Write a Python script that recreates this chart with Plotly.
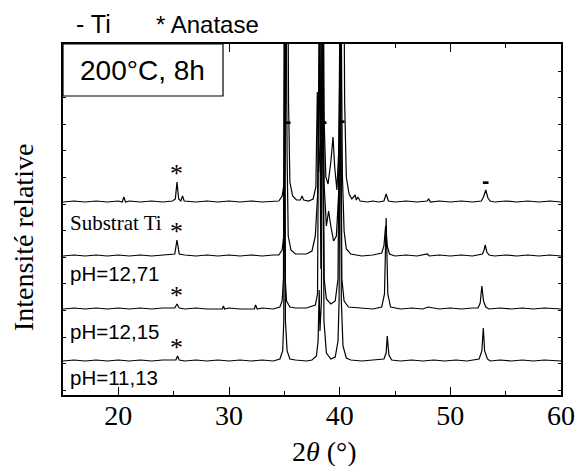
import plotly.graph_objects as go

# ---------------- data (2theta in degrees, relative intensity, arbitrary units) ----------------
# stacking offsets of the four patterns (top -> bottom)
offsets = [193, 139, 86, 34]
labels = ["Substrat Ti", "pH=12,71", "pH=12,15", "pH=11,13"]

t1_x = [15, 16, 17, 18, 19, 20, 20.35, 20.5, 20.65, 21, 22, 23, 24, 24.9, 25.15, 25.3, 25.45, 25.65, 25.8, 25.95,
        27, 28, 29, 30, 31, 32, 33, 34, 34.5, 34.8, 35.0, 35.12, 35.25, 35.38, 35.5, 35.75, 36.1, 36.45, 36.6, 36.75,
        37.2, 37.6, 37.85, 37.98, 38.1, 38.25, 38.45, 38.6, 38.75, 38.95, 39.2, 39.4, 39.55, 39.75, 39.95, 40.05,
        40.12, 40.3, 40.45, 40.6, 40.85, 41.1, 41.4, 41.5, 41.65, 41.85, 42.5, 43, 43.5, 44.0, 44.2, 44.4, 45, 46, 47,
        47.9, 48.05, 48.2, 49, 50, 51, 52, 52.8, 53.0, 53.2, 53.4, 53.6, 54, 55, 56, 57, 58, 59, 60]
t1_y = [0, 1, 0, 1, 0, 1, 0, 5, 0, 1, 0, 1, 0, 1, 3, 20, 3, 1, 6, 1,
        0, 1, 0, 1, 0, 1, 0, 1, 1, 6, 20, 100, 400, 100, 20, 6, 2, 2, 6, 2,
        1, 3, 15, 110, 30, 60, 400, 80, 25, 18, 40, 65, 35, 12, 60, 120,
        90, 400, 100, 25, 8, 3, 7, 2, 5, 1, 0, 1, 0, 1, 8, 1, 0, 1, 0,
        1, 3, 0, 1, 0, 1, 0, 1, 5, 12, 4, 1, 0, 1, 0, 1, 0, 1, 0]

t2_x = [15, 16, 17, 18, 19, 20, 21, 22, 23, 24, 25.1, 25.3, 25.5, 26, 27, 28, 29, 30, 31, 32, 33, 34, 34.5, 34.8,
        34.95, 35.05, 35.15, 35.25, 35.35, 35.6, 36, 37, 37.5, 37.8, 38.0, 38.2, 38.3, 38.45, 38.6, 38.8, 39.0,
        39.2, 39.45, 39.7, 39.9, 40.1, 40.25, 40.4, 40.6, 41, 42, 43, 43.8, 44.0, 44.15, 44.3, 44.5, 45, 46, 47,
        47.9, 48.1, 49, 50, 51, 52, 52.9, 53.05, 53.15, 53.3, 53.5, 54, 55, 56, 57, 58, 59, 60]
t2_y = [0, 1, 0, 1, 0, 1, 0, 1, 0, 1, 2, 16, 2, 1, 0, 1, 0, 1, 0, 1, 0, 1, 1, 6,
        20, 100, 300, 100, 20, 6, 2, 2, 5, 20, 60, 250, 80, 300, 70, 30, 45,
        30, 15, 20, 60, 300, 80, 25, 7, 2, 0, 1, 3, 10, 30, 10, 2, 0, 1, 0,
        2, 0, 1, 0, 1, 0, 2, 6, 11, 4, 1, 0, 1, 0, 1, 0, 1, 0]

t3_x = [15, 16, 17, 18, 19, 20, 21, 22, 23, 24, 25.1, 25.3, 25.5, 26, 27, 28, 29.4, 29.5, 29.6, 30, 31, 32.3, 32.4,
        32.55, 33, 34, 34.6, 34.8, 34.92, 35.0, 35.08, 35.2, 35.5, 36, 37, 37.8, 38.0, 38.15, 38.3, 38.45, 38.6,
        38.8, 39.2, 39.6, 39.85, 40.05, 40.2, 40.4, 40.8, 42, 43, 43.8, 44.05, 44.2, 44.35, 44.6, 45.5, 46.5, 47.5,
        48, 49, 50, 51, 52, 52.5, 52.7, 52.85, 53.0, 53.2, 53.5, 54.5, 55.5, 56.5, 57.5, 58.5, 60]
t3_y = [0, 1, 0, 1, 0, 1, 0, 1, 0, 1, 1, 5, 1, 0, 1, 0, 0, 3, 0, 1, 0, 0, 4,
        0, 1, 0, 2, 8, 30, 350, 30, 8, 2, 1, 1, 4, 15, 300, 40, 300, 30,
        10, 5, 8, 30, 350, 30, 8, 2, 1, 0, 2, 15, 91, 15, 2, 0, 1, 0,
        2, 0, 1, 0, 1, 1, 6, 23, 8, 2, 0, 1, 0, 1, 0, 1, 0]

t4_x = [15, 16, 17, 18, 19, 20, 21, 22, 23, 24, 25.2, 25.35, 25.5, 26, 27, 28, 29, 30, 31, 32, 33, 34, 34.6, 34.85,
        34.95, 35.02, 35.1, 35.25, 35.5, 36, 37, 37.5, 37.9, 38.05, 38.15, 38.22, 38.35, 38.45, 38.58, 38.8, 39.2,
        39.6, 39.85, 39.95, 40.05, 40.15, 40.3, 40.6, 41, 42, 43, 44.0, 44.2, 44.3, 44.45, 44.7, 45.5, 46.5, 47.5,
        48.5, 49.5, 50.5, 51.5, 52.6, 52.85, 52.98, 53.1, 53.35, 53.6, 54.5, 55.5, 56.5, 57.5, 58.5, 60]
t4_y = [0, 1, 0, 1, 0, 1, 0, 1, 0, 1, 1, 5, 1, 0, 1, 0, 1, 0, 1, 0, 1, 0, 2, 10,
        40, 350, 40, 10, 2, 1, 0, 1, 5, 20, 71, 30, 60, 350, 40, 8, 2,
        4, 20, 60, 350, 60, 15, 3, 1, 0, 1, 2, 8, 25, 6, 1, 0, 1, 0,
        1, 0, 1, 0, 2, 10, 33, 10, 2, 0, 1, 0, 1, 0, 1, 0]

patterns_x = [t1_x, t2_x, t3_x, t4_x]
patterns_y = [t1_y, t2_y, t3_y, t4_y]

anatase_2theta = 25.3
anatase_mark_y = [222, 164, 100, 48]
ti_mark_x = [35.3, 38.5, 40.15, 53.2]
ti_mark_y = [275, 275, 276, 215]
label_y = [172, 122, 64, 18]

x_ticks = [20, 30, 40, 50, 60]

# ---------------- figure ----------------
fig = go.Figure()
for xs, ys, off, name in zip(patterns_x, patterns_y, offsets, labels):
    fig.add_trace(go.Scatter(x=xs, y=[off + v for v in ys], mode="lines", name=name,
                             line=dict(color="black", width=1.2), showlegend=False))

serif = "Liberation Serif, Times New Roman, serif"
sans = "Liberation Sans, Arial, sans-serif"
narrow = "Liberation Sans Narrow, Arial Narrow, Liberation Sans, sans-serif"

L, R, T, B = 63, 561, 44, 395  # plot area in pixels
W, H = R - L, B - T


def px(xp):
    return (xp - L) / W


def py(yp):
    return (B - yp) / H


ann = []
for yv in anatase_mark_y:
    ann.append(dict(x=anatase_2theta, y=yv, text="*", showarrow=False, xref="x", yref="y",
                    xanchor="center", yanchor="middle",
                    font=dict(family=serif, size=26, color="black")))
for xv, yv in zip(ti_mark_x, ti_mark_y):
    ann.append(dict(x=xv, y=yv, text="<b>-</b>", showarrow=False, xref="x", yref="y",
                    xanchor="center", yanchor="middle",
                    font=dict(family=sans, size=22, color="black")))
for i, (lab, yv) in enumerate(zip(labels, label_y)):
    ann.append(dict(x=15.45, y=yv, text=lab, showarrow=False, xref="x", yref="y", xanchor="left",
                    yanchor="middle",
                    font=dict(family=serif if i == 0 else sans, size=21 if i == 0 else 20.5, color="black")))

ann += [
    dict(x=px(142), y=py(70), xref="paper", yref="paper", text="200°C, 8h", xanchor="center",
         yanchor="middle", showarrow=False, font=dict(family=sans, size=28, color="black")),
    dict(x=px(74), y=py(24), xref="paper", yref="paper", text="- Ti", xanchor="left", yanchor="middle",
         showarrow=False, font=dict(family=narrow, size=25, color="black")),
    dict(x=px(261), y=py(24), xref="paper", yref="paper", text="* Anatase", xanchor="right",
         yanchor="middle", showarrow=False, font=dict(family=narrow, size=24, color="black")),
    dict(x=px(23), y=py(238), xref="paper", yref="paper", text="Intensité relative", xanchor="center",
         yanchor="middle", textangle=-90, showarrow=False, font=dict(family=serif, size=28, color="black")),
    dict(x=px(324.5), y=py(451), xref="paper", yref="paper", text="2<i>θ</i> (°)", xanchor="center",
         yanchor="middle", showarrow=False, font=dict(family=serif, size=28, color="black")),
]

fig.update_layout(
    width=576, height=466,
    margin=dict(l=L, r=576 - R, t=T, b=466 - B, autoexpand=False),
    paper_bgcolor="white", plot_bgcolor="white",
    annotations=ann,
    shapes=[dict(type="rect", xref="paper", yref="paper", x0=0, x1=px(223),
                 y0=py(96), y1=1, line=dict(color="black", width=1.2), fillcolor="white",
                 layer="above")],
)
fig.update_xaxes(range=[15, 60], tickvals=x_ticks, ticks="inside", ticklen=8, tickwidth=1.2,
                 tickcolor="black", showline=True, linecolor="black", linewidth=1.5, mirror="ticks",
                 showgrid=False, zeroline=False, automargin=False, ticklabelstandoff=-5,
                 minor=dict(dtick=5, tick0=15, ticks="inside", ticklen=4, tickcolor="black", showgrid=False),
                 tickfont=dict(family=serif, size=28, color="black"))
fig.update_yaxes(range=[0, 351], tick0=4.8, dtick=26.6, ticks="inside", ticklen=3, tickcolor="black",
                 showticklabels=False, showline=True, linecolor="black", linewidth=1.5, mirror="ticks",
                 showgrid=False, zeroline=False, automargin=False)

# remove the browser's default 8px page margin so the figure sits at the window's origin
fig.write_html("out.html", config={"displayModeBar": False},
               post_script="document.body.style.margin='0';document.body.style.overflow='hidden';")
